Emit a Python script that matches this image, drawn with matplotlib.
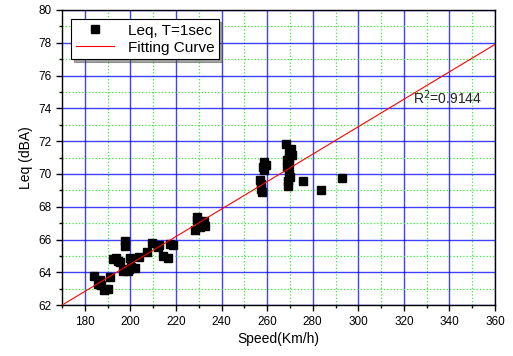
import numpy as np
import matplotlib.pyplot as plt
from matplotlib.ticker import MultipleLocator

plt.rcParams['font.family'] = ['Liberation Sans', 'DejaVu Sans']

speed = [184.2, 185.7, 187.2, 188.6, 190.1, 191.1, 192.3, 193.7, 195.5, 196.6,
         197.4, 197.8, 198.8, 200.0, 200.3, 202.2, 203.9, 207.2, 209.5, 212.0,
         212.7, 214.5, 216.4, 217.5, 218.5, 229.0, 229.4, 228.5, 231.0, 232.8,
         232.4, 257.2, 256.8, 257.7, 258.7, 258.7, 259.4, 268.2, 269.6, 271.1,
         268.9, 268.9, 269.6, 269.3, 269.3, 270.4, 275.8, 283.8, 293.0,
         257.5, 258.3, 269.5, 270.0, 269.8, 194.5, 199.5, 230.5, 186.5]
leq = [63.8, 63.3, 63.2, 62.9, 63.0, 63.7, 64.8, 64.85, 64.65, 64.1,
       65.9, 65.6, 64.1, 64.85, 64.35, 64.25, 64.95, 65.25, 65.8, 65.55,
       65.65, 65.0, 64.85, 65.75, 65.65, 67.2, 67.35, 66.6, 66.9, 66.8,
       67.1, 69.1, 69.6, 68.9, 70.25, 70.75, 70.55, 71.8, 71.3, 71.15,
       70.85, 70.45, 70.05, 69.55, 69.25, 71.5, 69.55, 69.0, 69.75,
       69.4, 70.4, 70.6, 69.8, 71.0, 64.7, 64.2, 66.75, 63.5]

# fitting curve as drawn
fit_slope = 0.0837
fit_intercept = 47.77
r2_text = "R$^2$=0.9144"

fig = plt.figure(figsize=(5.13, 3.56), dpi=100)
ax = fig.add_axes([0.121, 0.143, 0.844, 0.829])

ax.plot(speed, leq, 's', color='black', ms=5.5, label='Leq, T=1sec', zorder=3)
xf = np.array([170, 360])
ax.plot(xf, fit_intercept + fit_slope * xf, color='red', lw=0.8,
        label='Fitting Curve', zorder=4)

ax.set_xlim(170, 360)
ax.set_ylim(62, 80)
ax.xaxis.set_major_locator(MultipleLocator(20))
ax.xaxis.set_minor_locator(MultipleLocator(10))
ax.yaxis.set_major_locator(MultipleLocator(2))
ax.yaxis.set_minor_locator(MultipleLocator(1))
ax.grid(which='major', color='blue', lw=1.0, alpha=0.75)
ax.grid(which='minor', color='#33ee33', lw=0.9, linestyle=':')
ax.set_axisbelow(True)
ax.tick_params(which='major', direction='out', length=4, width=1, labelsize=8.5)
ax.tick_params(which='minor', direction='out', length=2.5, width=1)
for s in ax.spines.values():
    s.set_linewidth(1.0)

ax.set_xlabel('Speed(Km/h)', fontsize=10, labelpad=3)
ax.set_ylabel('Leq (dBA)', fontsize=10, labelpad=4)

ax.text(324, 74.1, r2_text, fontsize=10, va='bottom', ha='left', color='#222222')

leg = ax.legend(loc='upper left', fontsize=11, frameon=True, fancybox=False,
                shadow=True, borderpad=0.3, handlelength=2.5, handletextpad=0.9,
                borderaxespad=0.6, numpoints=1, labelspacing=0.2)
leg.get_frame().set_edgecolor('black')
leg.get_frame().set_linewidth(0.8)

fig.savefig('out.png', dpi=100)
